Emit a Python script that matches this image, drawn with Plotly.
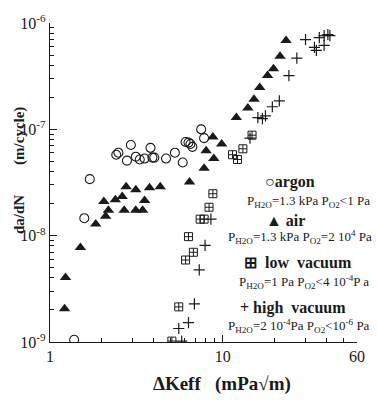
import plotly.graph_objects as go

# ---- data ----
argon_dk = [1.38, 1.58, 1.70, 2.42, 2.49, 2.79, 2.94, 3.14, 3.31, 3.53, 3.82, 3.92, 4.02,
            4.70, 5.29, 5.87, 6.10, 6.34, 6.51, 6.68, 7.51, 7.81]
argon_dadn = [1.05e-9, 1.46e-8, 3.40e-8, 5.77e-8, 6.03e-8, 5.08e-8, 7.13e-8, 5.53e-8, 5.20e-8,
              5.31e-8, 6.70e-8, 5.42e-8, 5.42e-8, 5.31e-8, 6.03e-8, 4.88e-8, 7.60e-8, 7.50e-8,
              7.28e-8, 6.84e-8, 1.00e-7, 8.26e-8]

air_dk = [1.215, 1.23, 1.50, 1.84, 2.10, 2.18, 2.05, 2.39, 2.62, 2.76, 2.69, 3.14, 3.14, 3.44,
          3.53, 3.77, 4.35, 6.43, 7.81, 8.89, 8.02, 8.78, 9.87, 12.0, 14.0, 15.2, 16.4, 18.2,
          19.7, 21.5, 23.3]
air_dadn = [2.05e-9, 4.04e-9, 7.76e-9, 1.29e-8, 1.52e-8, 1.73e-8, 2.10e-8, 2.18e-8, 2.33e-8,
            2.88e-8, 1.73e-8, 2.70e-8, 1.73e-8, 1.73e-8, 2.14e-8, 2.82e-8, 2.88e-8, 3.20e-8,
            4.30e-8, 5.31e-8, 6.28e-8, 8.45e-8, 7.28e-8, 1.29e-7, 1.59e-7, 1.92e-7, 2.48e-7,
            3.20e-7, 3.71e-7, 4.88e-7, 6.84e-7]

lowvac_dk = [5.08, 5.57, 6.10, 6.77, 6.34, 7.41, 7.81, 8.34, 8.78, 11.4, 12.2, 13.1, 14.8]
lowvac_dadn = [1.02e-9, 2.14e-9, 5.90e-9, 6.98e-9, 9.79e-9, 1.43e-8, 1.43e-8, 1.85e-8,
               2.48e-8, 5.77e-8, 5.20e-8, 6.56e-8, 8.81e-8]

highvac_dk = [5.79, 5.57, 6.34, 6.86, 7.32, 7.91, 8.55, 14.4, 16.0, 17.0, 17.7, 19.4, 21.3,
              24.2, 26.9, 30.2, 34.0, 34.9, 36.3, 38.7, 38.7, 40.7, 41.8]
highvac_dadn = [1.02e-9, 1.34e-9, 1.52e-9, 2.28e-9, 4.77e-9, 8.09e-9, 1.43e-8, 8.26e-8,
                1.29e-7, 1.26e-7, 1.34e-7, 1.63e-7, 1.85e-7, 3.20e-7, 4.68e-7, 6.98e-7,
                5.90e-7, 5.53e-7, 7.28e-7, 6.15e-7, 7.60e-7, 7.76e-7, 7.60e-7]

x_tickvals = [1, 10, 60]
x_ticktext = ["1", "10", "60"]
x_minor = [2, 3, 4, 5, 6, 7, 8, 9, 20, 30, 40, 50]
y_tickvals = [1e-9, 1e-8, 1e-7, 1e-6]
y_ticktext = ["10<sup>-9</sup>", "10<sup>-8</sup>", "10<sup>-7</sup>", "10<sup>-6</sup>"]
y_minor = [m * 10.0 ** e for e in (-9, -8, -7) for m in range(2, 10)]

INK = "#1a1a1a"
SERIF = "Liberation Serif, Times New Roman, serif"

fig = go.Figure()
fig.add_trace(go.Scatter(x=argon_dk, y=argon_dadn, mode="markers",
                         marker=dict(symbol="circle-open", size=9, color=INK, line=dict(width=1.1, color=INK))))
fig.add_trace(go.Scatter(x=air_dk, y=air_dadn, mode="markers",
                         marker=dict(symbol="triangle-up", size=10, color=INK, line=dict(width=0))))
fig.add_trace(go.Scatter(x=lowvac_dk, y=lowvac_dadn, mode="markers",
                         marker=dict(symbol="square-cross-open", size=8, color=INK, line=dict(width=1, color=INK))))
fig.add_trace(go.Scatter(x=highvac_dk, y=highvac_dadn, mode="markers",
                         marker=dict(symbol="cross-thin-open", size=8, color=INK, line=dict(width=1.2, color=INK))))

axis_common = dict(showline=True, linecolor=INK, linewidth=1.2, mirror=False, showgrid=False,
                   zeroline=False, ticks="inside", ticklen=7, tickcolor=INK, tickwidth=1,
                   ticklabeloverflow="allow",
                   tickfont=dict(family=SERIF, size=16, color=INK))

fig.update_xaxes(type="log", range=[0, 1.7782], tickmode="array", tickvals=x_tickvals,
                 ticktext=x_ticktext,
                 minor=dict(tickmode="array", tickvals=x_minor, ticks="inside", ticklen=4,
                            tickcolor=INK, showgrid=False),
                 **axis_common)
fig.update_yaxes(type="log", range=[-9, -6], tickmode="array", tickvals=y_tickvals,
                 ticktext=y_ticktext,
                 minor=dict(tickmode="array", tickvals=y_minor, ticks="inside", ticklen=4,
                            tickcolor=INK, showgrid=False),
                 **axis_common)

W, H = 377, 400
L, R, T, B = 50, 12, 15, 58
pw, ph = W - L - R, H - T - B

def px(xp):
    return (xp - L) / pw

def py(yp):
    return 1 - (yp - T) / ph

annots = []
def txt(text, xp, yp, size, bold=False):
    annots.append(dict(text=("<b>%s</b>" % text) if bold else text, x=px(xp), y=py(yp),
                       xref="paper", yref="paper", xanchor="left", yanchor="middle",
                       borderpad=0, showarrow=False,
                       font=dict(family=SERIF, size=size, color=INK)))

NB = "&nbsp;"
txt("○argon", 270, 178, 16, bold=True)
txt("P<sub>H2O</sub>=1.3 kPa P<sub>O2</sub>&lt;1 Pa", 251, 198, 13)
txt("▲" + NB + "air", 271, 217, 16, bold=True)
txt("P<sub>H2O</sub>=1.3 kPa P<sub>O2</sub>=2 10<sup>4</sup> Pa", 232, 234, 13)
txt("⊞" + NB * 2 + "low" + NB * 2 + "vacuum", 248, 260, 16, bold=True)
txt("P<sub>H2O</sub>=1 Pa P<sub>O2</sub>&lt;4 10<sup>-4</sup>P a", 243, 280, 13)
txt("+" + NB + "high" + NB * 2 + "vacuum", 244, 307, 16, bold=True)
txt("P<sub>H2O</sub>=2 10<sup>-4</sup>Pa P<sub>O2</sub>&lt;10<sup>-6</sup> Pa", 232, 326, 13)

# axis titles
annots.append(dict(text="<b>ΔKeff" + NB * 3 + "(mPa√m)</b>", x=px(155), y=py(385),
                   xref="paper", yref="paper", xanchor="left", yanchor="middle",
                   borderpad=0, showarrow=False, font=dict(family=SERIF, size=19, color=INK)))
annots.append(dict(text="<b>da/dN" + NB * 8 + "(m/cycle)</b>", x=px(18), y=py(166),
                   xref="paper", yref="paper", xanchor="center", yanchor="middle",
                   borderpad=0, showarrow=False, textangle=-90,
                   font=dict(family=SERIF, size=15, color=INK)))

fig.update_layout(width=W, height=H, margin=dict(l=L, r=R, t=T, b=B),
                  paper_bgcolor="white", plot_bgcolor="white", showlegend=False,
                  annotations=annots, font=dict(family=SERIF, color=INK))

fig.write_html("out.html", config={"displayModeBar": False},
               post_script="document.body.style.margin='0';document.body.style.overflow='hidden';")
